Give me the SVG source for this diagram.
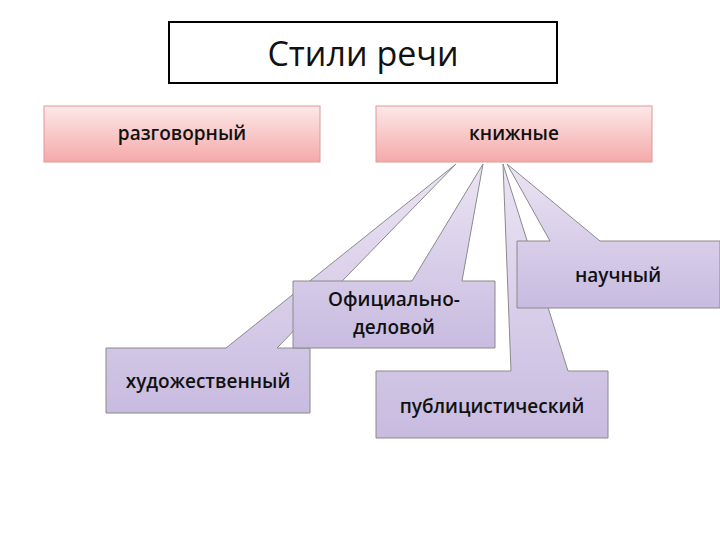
<svg xmlns="http://www.w3.org/2000/svg" width="720" height="540" viewBox="0 0 720 540">
<defs>
<linearGradient id="pk" x1="0" y1="0" x2="0" y2="1"><stop offset="0" stop-color="#fde8e8"/><stop offset="1" stop-color="#f5a9a9"/></linearGradient>
<linearGradient id="lv" x1="0" y1="0" x2="0" y2="1"><stop offset="0" stop-color="#ebe4f3"/><stop offset="1" stop-color="#c8bbe0"/></linearGradient>
</defs>
<style>
.pink{fill:url(#pk);stroke:#d99;stroke-width:1}
.lav{fill:url(#lv);stroke:#8a8a8a;stroke-width:1;stroke-linejoin:miter}
text{font-family:"Open Sans","Liberation Sans",sans-serif;font-size:19px;font-weight:600;fill:#111;text-anchor:middle}
</style>
<rect width="720" height="540" fill="#fff"/>
<g id="title"><rect x="169" y="22" width="388" height="61" fill="#fff" stroke="#000" stroke-width="2"/><text x="363" y="66" style="font-size:34px;font-weight:400">Стили речи</text></g>
<g id="razg"><rect class="pink" x="44" y="106" width="276" height="56"/><text x="182" y="140">разговорный</text></g>
<g id="knizh"><rect class="pink" x="376" y="106" width="276" height="56"/><text x="514" y="140">книжные</text></g>
<g id="connectors"></g>
<g id="hud"><path class="lav" d="M106,348 H226 L456,164 L277,348 H310 V413 H106 Z"/><text x="208" y="388">художественный</text></g>
<g id="publ"><path class="lav" d="M376,371 H511 L503,164 L568,371 H608 V438 H376 Z"/><text x="492" y="413">публицистический</text></g>
<g id="ofic"><path class="lav" d="M293,281 H412 L483,164 L462,281 H495 V348 H293 Z"/><text x="394" y="306">Официально-</text><text x="394" y="334">деловой</text></g>
<g id="nauch"><path class="lav" d="M517,241 H550 L507,164 L600,241 H720 V308 H517 Z"/><text x="618" y="282">научный</text></g>
</svg>
